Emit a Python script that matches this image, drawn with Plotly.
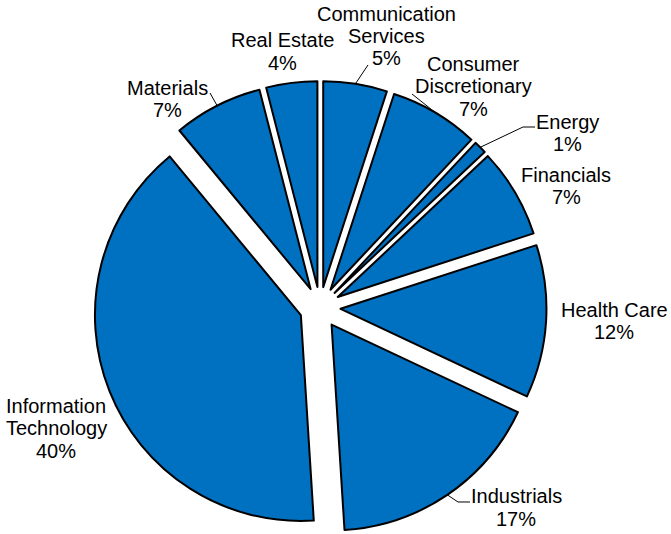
import math
import plotly.graph_objects as go

# ---- data ----
sectors = ["Communication Services", "Consumer Discretionary", "Energy", "Financials",
           "Health Care", "Industrials", "Information Technology", "Materials", "Real Estate"]
label_lines = [["Communication", "Services"], ["Consumer", "Discretionary"], ["Energy"], ["Financials"],
               ["Health Care"], ["Industrials"], ["Information", "Technology"], ["Materials"], ["Real Estate"]]
weights = [5, 7, 1, 7, 12, 17, 40, 7, 4]

# ---- layout / style ----
W, H = 671, 534
explode = 0.1
pie_w, pie_h = 640, 453            # pie box in pixels (left/bottom aligned)
FONT = dict(family="Liberation Sans, Arial, sans-serif", size=20, color="black")
LINE_GAP = 22.5
# label block centres (pixels) and leader-line label ends (pixels)
label_pos = [(386, 36), (473, 86), (567, 133), (566, 186), (614, 321),
             (516, 507.5), (56, 428), (167, 99), (282, 51.5)]
leader_end = {0: [(368, 65)], 1: [(412, 94)], 2: [(523, 127), (535, 127)],
              5: [(458, 502), (470, 502)], 7: [(210, 93)]}

fig = go.Figure(go.Pie(
    labels=sectors,
    values=weights,
    sort=False,
    direction="clockwise",
    rotation=0,
    pull=[explode] * len(sectors),
    textinfo="none",
    marker=dict(colors=["#0070C0"] * len(sectors), line=dict(color="black", width=2)),
    domain=dict(x=[0, pie_w / W], y=[0, pie_h / H]),
    showlegend=False,
    hoverinfo="label+percent",
))

# pie geometry derived from the domain (plotly: r = min(rx, ry) / (1 + max pull))
cx = pie_w / 2
cy = H - pie_h / 2
R = min(pie_w, pie_h) / 2 / (1 + explode)
total = sum(weights)

def px2paper(x, y):
    return x / W, 1 - y / H

annotations = []
shapes = []
cum = 0
for i, w in enumerate(weights):
    mid = math.radians((cum + w / 2) / total * 360)
    cum += w
    pct = f"{round(100 * w / total)}%"
    lines = label_lines[i] + [pct]
    bx, by = label_pos[i]
    n = len(lines)
    for k, t in enumerate(lines):
        y = by + (k - (n - 1) / 2) * LINE_GAP
        xp, yp = px2paper(bx, y)
        annotations.append(dict(x=xp, y=yp, xref="paper", yref="paper", text=t,
                                showarrow=False, xanchor="center", yanchor="middle", font=FONT))
    if i in leader_end:
        rr = R * (1 + explode)
        sx, sy = cx + rr * math.sin(mid), cy - rr * math.cos(mid)
        pts = [(sx, sy)] + leader_end[i]
        path = ""
        for j, (x, y) in enumerate(pts):
            xp, yp = px2paper(x, y)
            path += ("M" if j == 0 else " L") + f"{xp:.5f},{yp:.5f}"
        shapes.append(dict(type="path", path=path, xref="paper", yref="paper",
                           line=dict(color="black", width=1)))

fig.update_layout(
    width=W, height=H,
    margin=dict(l=0, r=0, t=0, b=0, autoexpand=False),
    paper_bgcolor="white",
    plot_bgcolor="white",
    showlegend=False,
    annotations=annotations,
    shapes=shapes,
)

fig.write_html("out.html")
